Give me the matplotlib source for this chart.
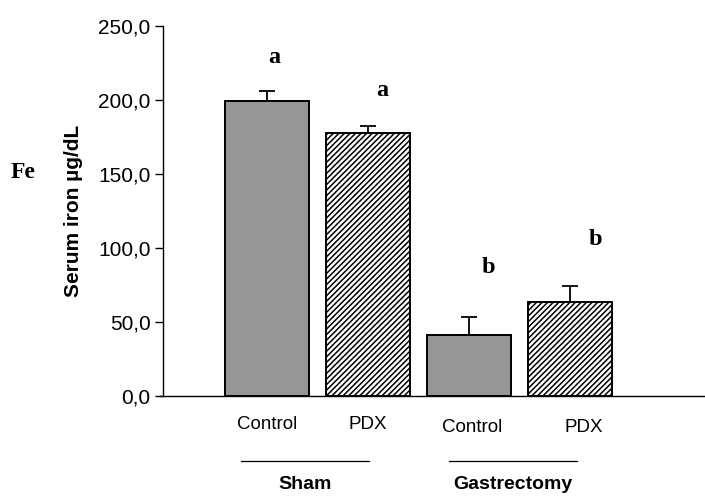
import numpy as np
from matplotlib import pyplot as plt

groups = ["Sham", "Gastrectomy"]
treatments = ["Control", "PDX", "Control", "PDX"]
means = [199.0, 178.0, 41.5, 63.5]
errors = [7.0, 4.5, 12.0, 11.0]
letters = ["a", "a", "b", "b"]
y_ticks = [0, 50, 100, 150, 200, 250]

SANS = "Liberation Sans"
SERIF = "Liberation Serif"

plt.rcParams['hatch.linewidth'] = 1.1

fig = plt.figure(figsize=(7.05, 4.96), dpi=100)
ax = fig.add_axes([163 / 705, 100 / 496, 542 / 705, 370 / 496])

x = np.arange(len(means))
hatches = ["", "//////", "", "//////"]
colors = ["#969696", "white", "#969696", "white"]
ax.bar(x, means, width=0.84, color=colors, edgecolor="black",
       linewidth=1.4, hatch=hatches, zorder=2)
ax.errorbar(x, means, yerr=[np.zeros(len(errors)), errors], fmt="none",
            ecolor="black", elinewidth=1.3, capsize=6, capthick=1.3, zorder=1)

ax.set_xlim(-1.03, 4.337)
ax.set_ylim(0, 250)
ax.set_yticks(y_ticks)
ax.set_yticklabels([f"{v:.1f}".replace(".", ",") for v in y_ticks],
                   fontfamily=SANS, fontsize=15)
ax.tick_params(axis="y", length=6, width=1, pad=3)
ax.set_xticks([])
for s in ["top", "right"]:
    ax.spines[s].set_visible(False)
ax.spines["left"].set_linewidth(1)
ax.spines["bottom"].set_linewidth(1)
ax.spines["bottom"].set_bounds(-1.06, 4.337)

ax.set_ylabel("Serum iron µg/dL", fontfamily=SANS, fontweight="bold",
              fontsize=15)
ax.yaxis.set_label_coords(-0.148, 0.5)

# significance letters
letter_dx = [0.07, 0.14, 0.19, 0.25]
letter_dy = [23, 24, 33, 31]
for i, lab in enumerate(letters):
    ax.text(x[i] + letter_dx[i], means[i] + errors[i] + letter_dy[i], lab,
            fontfamily=SERIF, fontweight="bold", fontsize=17.5,
            ha="center", va="center")

# treatment labels under bars
label_dx = [0.0, 0.0, 0.035, 0.14]
label_y = [-19, -19, -21, -21]
for i, lab in enumerate(treatments):
    ax.text(x[i] + label_dx[i], label_y[i], lab, fontfamily=SANS,
            fontsize=13.5, ha="center", va="center", clip_on=False)

# group lines and labels
group_spans = [(-0.257, 1.01), (1.80, 3.07)]
for (x0, x1), g in zip(group_spans, groups):
    ax.plot([x0, x1], [-44, -44], color="black", linewidth=0.9,
            clip_on=False)
    ax.text((x0 + x1) / 2, -59.5, g, fontfamily=SANS, fontweight="bold",
            fontsize=14, ha="center", va="center", clip_on=False)

fig.text(23 / 705, 1 - 172 / 496, "Fe", fontfamily=SERIF,
         fontweight="bold", fontsize=17, ha="center", va="center")

fig.savefig("out.png", dpi=100)
